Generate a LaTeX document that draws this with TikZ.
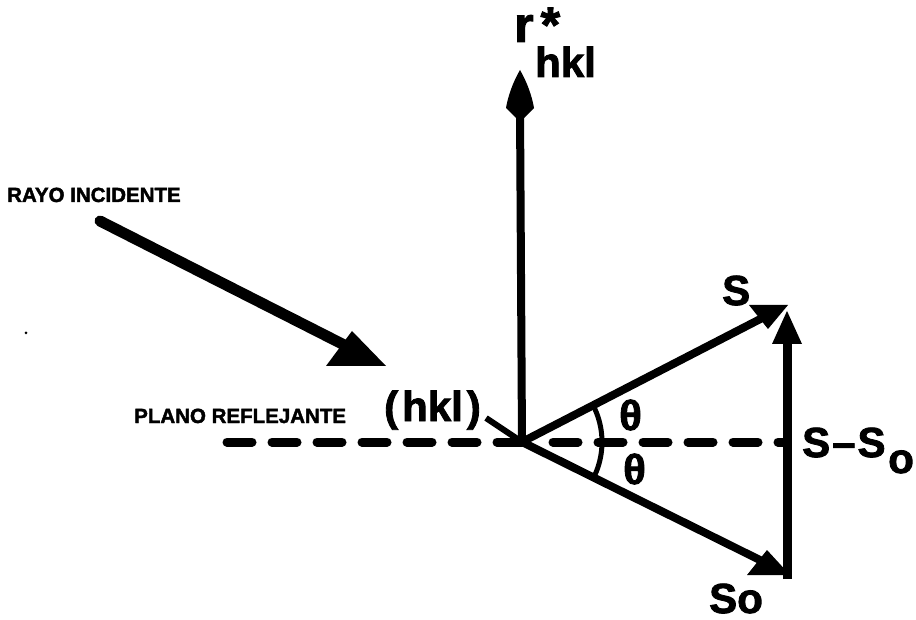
\documentclass[tikz,border=0pt]{standalone}
\usepackage{fontspec}
\setmainfont{Liberation Sans}[BoldFeatures={FakeBold=2}]
\begin{document}
\begin{tikzpicture}[x=1pt,y=-1pt,
  lab/.style={inner sep=0pt, anchor=base west, font=\bfseries\fontsize{42}{48}\selectfont},
  biglab/.style={inner sep=0pt, anchor=base west, font=\bfseries\fontsize{50}{56}\selectfont},
  smalllab/.style={inner sep=0pt, anchor=base west, font=\bfseries\fontsize{20.5}{24}\selectfont},
  vec/.style={line width=8pt},
  ray/.style={line width=11pt, line cap=round},
  head/.style={fill=black},
  plane/.style={line width=9pt, line cap=round, dash pattern=on 25pt off 20pt},
  anglemark/.style={line width=5pt}
]
\useasboundingbox (0,0) rectangle (916,620);
% key points
\coordinate (O) at (522,442);
\coordinate (Rtip) at (520,70);
\coordinate (Rbase) at (520,108);
\coordinate (Stip) at (788,305);
\coordinate (Send) at (770,314);
\coordinate (Sotip) at (790,575);
\coordinate (Soend) at (770,565);
\coordinate (Dtop) at (787,311);
\coordinate (Dbase) at (787,338);
\coordinate (Dbot) at (787,579);
\coordinate (Istart) at (100,221);
\coordinate (Iend) at (360,353);
\coordinate (Itip) at (386,366);
\coordinate (Lstart) at (486,418);
\coordinate (Pleft) at (225,442);
\coordinate (Pmid) at (553,442);
\coordinate (Pright) at (785,442);

% reflecting plane (dashed)
\draw[plane] (O) -- (Pleft);
\draw[plane] (Pmid) -- (Pright);

% r*hkl vector
\draw[vec] (O) -- (Rbase);
\fill[head] (Rtip) .. controls (527,82) and (532,96) .. (534,108) -- (524,118) -- (516,118) -- (506,108) .. controls (508,96) and (513,82) .. (Rtip) -- cycle;

% S vector
\draw[vec] (O) -- (Send);
\fill[head] (Stip) -- (749,305) -- (768,329) -- cycle;

% So vector
\draw[vec] (O) -- (Soend);
\fill[head] (Sotip) -- (747,575) -- (767,550) -- cycle;

% S - So vector
\draw[line width=9pt] (Dbot) -- (Dbase);
\fill[head] (Dtop) -- (802,344) -- (772,344) -- cycle;

% incident ray
\draw[ray] (Istart) -- (Iend);
\fill[head] (Itip) -- (326,366) -- (352,331) -- cycle;

% (hkl) leader
\draw[line width=6pt] (Lstart) -- (O);

% angle mark
\draw[anglemark] plot[domain=-27:27, samples=40] ({522+80*cos(\x)}, {442+80*sin(\x)});

% scan speck
\fill (26,333) circle (1.5);

% labels
\node[smalllab] (rayo) at (7,202) {RAYO INCIDENTE};
\node[smalllab] (plano) at (134,423) {PLANO REFLEJANTE};
\node[lab, font=\bfseries\fontsize{42}{48}\selectfont] (hkl) at (384,421) {(\kern4pt hkl\kern4pt)};
\node[biglab] (r) at (514,42) {r\kern7pt*};
\node[lab] (hklsub) at (535,77) {hkl};
\node[lab] (S) at (722,305) {S};
\node[lab] (SmS) at (802,457) {S\kern2pt–\kern2pt S};
\node[lab] (Sosub) at (888,473) {o};
\node[lab] (So) at (709,613) {So};
\node[lab] (th1) at (619,430) {θ};
\node[lab] (th2) at (623,484) {θ};
\end{tikzpicture}
\end{document}
